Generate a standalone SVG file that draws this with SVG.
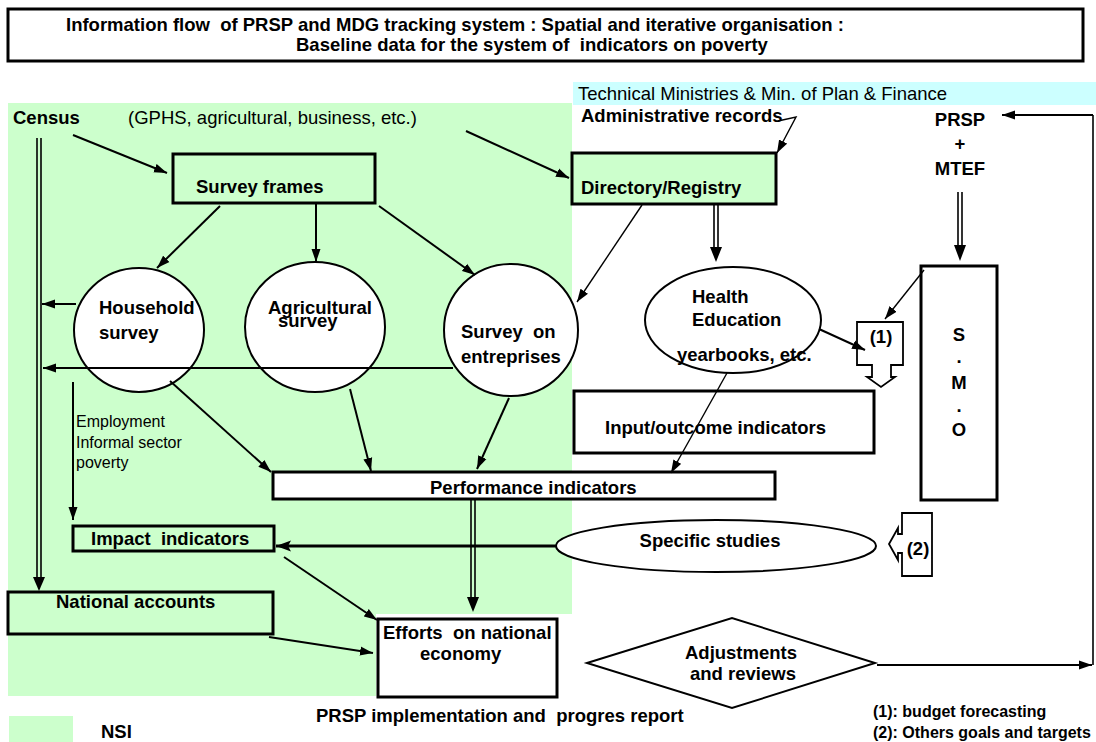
<svg xmlns="http://www.w3.org/2000/svg" width="1096" height="742" viewBox="0 0 1096 742">
<defs>
<marker id="ah" markerUnits="userSpaceOnUse" markerWidth="14" markerHeight="10" refX="13" refY="5" orient="auto"><path d="M0,0.5 L13,5 L0,9.5 z" fill="#000"/></marker>
<marker id="ahb" markerUnits="userSpaceOnUse" markerWidth="16" markerHeight="12" refX="15" refY="6" orient="auto"><path d="M0,0.5 L15,6 L0,11.5 L3,6 z" fill="#000"/></marker>
</defs>
<style>
text{font-family:"Liberation Sans",Arial,sans-serif;white-space:pre;fill:#000}
.b{font-weight:bold;font-size:18.5px}
.r{font-size:18.5px}
.s{font-size:16px}
.f{font-weight:bold;font-size:16px}
.box{fill:#fff;stroke:#000;stroke-width:3}
.gbox{fill:#ccffcc;stroke:#000;stroke-width:3}
.ell{fill:#fff;stroke:#000;stroke-width:2}
.a{stroke:#000;stroke-width:2;fill:none;marker-end:url(#ah)}
.t{stroke:#000;stroke-width:1.4;fill:none;marker-end:url(#ah)}
.k{stroke:#000;stroke-width:3;fill:none;marker-end:url(#ahb)}
.d{stroke:#000;stroke-width:1.6;fill:none}
.m{fill:#000}
</style>

<g id="background">
<rect x="8" y="103" width="564" height="511" fill="#ccffcc"/>
<rect x="8" y="614" width="368" height="82" fill="#ccffcc"/>
<rect x="573" y="82" width="523" height="23" fill="#ccffff"/>
</g>

<g id="title">
<rect x="8" y="9" width="1075" height="52" fill="#fff" stroke="#000" stroke-width="3"/>
<text class="b" x="66" y="31">Information flow  of PRSP and MDG tracking system : Spatial and iterative organisation :</text>
<text class="b" x="296" y="51">Baseline data for the system of  indicators on poverty</text>
</g>

<g id="census">
<text class="b" x="13" y="124">Census</text>
<text class="r" x="128" y="124">(GPHS, agricultural, business, etc.)</text>
</g>

<g id="technical-ministries">
<text class="r" x="578" y="100">Technical Ministries &amp; Min. of Plan &amp; Finance</text>
</g>

<g id="administrative-records">
<text class="b" x="581" y="122">Administrative records</text>
</g>

<g id="survey-frames">
<rect class="gbox" x="173" y="154" width="202" height="49"/>
<text class="b" x="196" y="193">Survey frames</text>
</g>

<g id="directory-registry">
<rect class="gbox" x="572" y="153" width="204" height="51"/>
<text class="b" x="581" y="194">Directory/Registry</text>
</g>

<g id="prsp-mtef">
<text class="b" x="960" y="126" text-anchor="middle">PRSP</text>
<text class="b" x="960" y="150" text-anchor="middle">+</text>
<text class="b" x="960" y="175" text-anchor="middle">MTEF</text>
</g>

<g id="household-survey">
<ellipse class="ell" cx="139" cy="330" rx="65" ry="62"/>
<text class="b" x="99" y="314">Household</text>
<text class="b" x="99" y="339">survey</text>
</g>

<g id="agricultural-survey">
<ellipse class="ell" cx="315" cy="327" rx="70" ry="65"/>
<text class="b" x="268" y="314">Agricultural</text>
<text class="b" x="278" y="327">survey</text>
</g>

<g id="survey-entreprises">
<ellipse class="ell" cx="511" cy="330" rx="67" ry="66"/>
<text class="b" x="461" y="338">Survey  on</text>
<text class="b" x="461" y="363">entreprises</text>
</g>

<g id="health-education">
<ellipse class="ell" cx="733" cy="320" rx="88" ry="53"/>
<text class="b" x="692" y="303">Health</text>
<text class="b" x="692" y="326">Education</text>
<text class="b" x="677" y="361">yearbooks, etc.</text>
</g>

<g id="smo">
<rect class="box" x="921" y="266" width="76" height="234"/>
<text class="b" x="959" y="341" text-anchor="middle">S</text>
<text class="b" x="959" y="363" text-anchor="middle">.</text>
<text class="b" x="959" y="389" text-anchor="middle">M</text>
<text class="b" x="959" y="412" text-anchor="middle">.</text>
<text class="b" x="959" y="436" text-anchor="middle">O</text>
</g>

<g id="callout-1">
<path d="M857,322 H903 V365 H891 V377 H895 L881,387 L867,377 H872 V365 H857 Z" fill="#fff" stroke="#000" stroke-width="1.8"/>
<text class="b" x="881" y="343" text-anchor="middle">(1)</text>
</g>

<g id="input-outcome">
<rect class="box" x="574" y="391" width="300" height="62"/>
<text class="b" x="605" y="434">Input/outcome indicators</text>
</g>

<g id="employment-note">
<text class="s" x="76" y="427">Employment</text>
<text class="s" x="76" y="448">Informal sector</text>
<text class="s" x="76" y="468">poverty</text>
</g>

<g id="performance-indicators">
<rect class="box" x="273" y="472" width="502" height="27"/>
<text class="b" x="430" y="494">Performance indicators</text>
</g>

<g id="impact-indicators">
<rect class="gbox" x="73" y="526" width="201" height="25"/>
<text class="b" x="91" y="545">Impact  indicators</text>
</g>

<g id="specific-studies">
<ellipse class="ell" cx="716" cy="546" rx="160" ry="26"/>
<text class="b" x="710" y="547" text-anchor="middle">Specific studies</text>
</g>

<g id="callout-2">
<path d="M932,513 H902 V534 H898 V528 L889,544 L898,560 V553 H902 V576 H932 Z" fill="#fff" stroke="#000" stroke-width="1.8"/>
<text class="b" x="918" y="555" text-anchor="middle">(2)</text>
</g>

<g id="national-accounts">
<rect class="gbox" x="8" y="592" width="265" height="42"/>
<text class="b" x="56" y="608">National accounts</text>
</g>

<g id="efforts">
<rect class="box" x="378" y="619" width="179" height="78"/>
<text class="b" x="383" y="639">Efforts  on national</text>
<text class="b" x="420" y="660">economy</text>
</g>

<g id="adjustments">
<polygon points="587,663 732,618 875,663 732,708" fill="#fff" stroke="#000" stroke-width="2"/>
<text class="b" x="741" y="659" text-anchor="middle">Adjustments</text>
<text class="b" x="743" y="680" text-anchor="middle">and reviews</text>
</g>

<g id="legend">
<rect x="9" y="716" width="64" height="26" fill="#ccffcc"/>
<text class="b" x="101" y="738">NSI</text>
<text class="b" x="316" y="722">PRSP implementation and  progres report</text>
<text class="f" x="873" y="717">(1): budget forecasting</text>
<text class="f" x="873" y="738">(2): Others goals and targets</text>
</g>

<g id="connectors">
<line class="a" x1="73" y1="135" x2="167" y2="173"/>
<line class="a" x1="466" y1="131" x2="569" y2="178"/>
<line class="a" x1="220" y1="206" x2="157" y2="268"/>
<line class="a" x1="316" y1="204" x2="316" y2="262"/>
<line class="a" x1="379" y1="206" x2="475" y2="275"/>
<line class="a" x1="76" y1="304" x2="42" y2="304"/>
<line class="a" x1="453" y1="368" x2="43" y2="368"/>
<line class="a" x1="73" y1="382" x2="73" y2="520"/>
<line class="a" x1="170" y1="381" x2="271" y2="472"/>
<line class="a" x1="350" y1="389" x2="371" y2="471"/>
<line class="a" x1="509" y1="398" x2="477" y2="469"/>
<line class="t" x1="642" y1="205" x2="577" y2="302"/>
<polyline class="t" points="778,121 796,117 777,153"/>
<line class="t" x1="727" y1="373" x2="671" y2="473"/>
<line class="t" x1="924" y1="270" x2="885" y2="319"/>
<line class="a" x1="819" y1="329" x2="865" y2="350"/>
<line class="k" x1="556" y1="546" x2="276" y2="546"/>
<line class="a" x1="284" y1="557" x2="377" y2="620"/>
<line class="a" x1="269" y1="637" x2="373" y2="653"/>
<polyline class="d" points="1093,665 1093,115" stroke-width="2.5"/>
<line class="a" x1="1093" y1="115" x2="1002" y2="115" stroke-width="2.5"/>
<line class="a" x1="877" y1="665" x2="1092" y2="665" stroke-width="2.5"/>
<g id="double-census">
<line class="d" x1="37" y1="138" x2="37" y2="578"/>
<line class="d" x1="41" y1="138" x2="41" y2="578"/>
<polygon class="m" points="33,577 45,577 39,591"/>
</g>
<g id="double-directory">
<line class="d" x1="714" y1="205" x2="714" y2="248"/>
<line class="d" x1="718" y1="205" x2="718" y2="248"/>
<polygon class="m" points="710,247 722,247 716,262"/>
</g>
<g id="double-mtef">
<line class="d" x1="958" y1="192" x2="958" y2="246"/>
<line class="d" x1="962" y1="192" x2="962" y2="246"/>
<polygon class="m" points="954,245 966,245 960,261"/>
</g>
<g id="double-performance">
<line class="d" x1="471" y1="499" x2="471" y2="598"/>
<line class="d" x1="475" y1="499" x2="475" y2="598"/>
<polygon class="m" points="467,597 479,597 473,612"/>
</g>
</g>
</svg>
